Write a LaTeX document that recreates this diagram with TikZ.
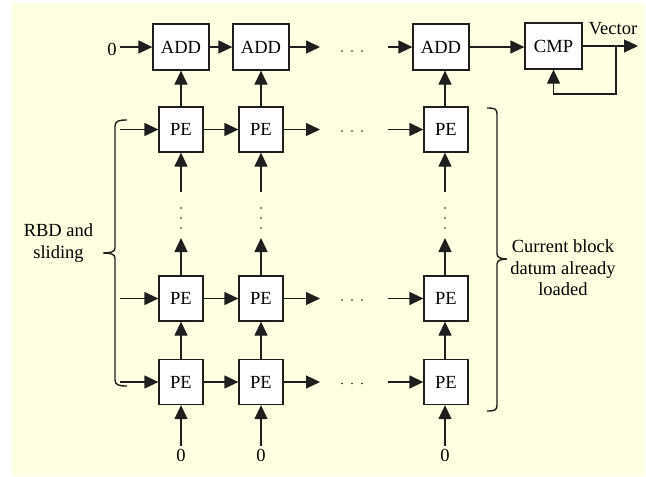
\documentclass[tikz,border=0pt]{standalone}
\usepackage{fontspec}
\setmainfont{Liberation Serif}
\usetikzlibrary{arrows.meta}
\definecolor{bgyellow}{RGB}{255,255,225}
\definecolor{lncol}{RGB}{30,30,30}
\begin{document}
\begin{tikzpicture}[x=1pt,y=-1pt,
  font=\fontsize{18.5}{21.5}\selectfont,
  box/.style={draw=lncol, fill=white, line width=1.3pt, inner sep=0pt, minimum height=46pt},
  addbox/.style={box, minimum width=56pt},
  pebox/.style={box, minimum width=44pt, minimum height=45pt},
  arr/.style={draw=lncol, line width=1.3pt, -{Triangle[length=14pt,width=13pt]}},
  ln/.style={draw=lncol, line width=1.4pt},
  zero/.style={inner sep=3pt},
]
\useasboundingbox (0,0) rectangle (646,477);
\fill[bgyellow] (12,3) rectangle (645,476);

% ADD row
\node[addbox] (add1) at (181,47) {ADD};
\node[addbox] (add2) at (261,47) {ADD};
\node[addbox] (add3) at (441,47) {ADD};
\node[addbox, minimum width=57pt] (cmp) at (553.5,46) {CMP};
\node[zero] (z0) at (112,49) {0};
\node[inner sep=0pt] (vec) at (613,29) {Vector};

% PE rows
\foreach \r/\y in {1/129.5,2/298.5,3/382}{
  \node[pebox] (pe\r1) at (181,\y) {PE};
  \node[pebox] (pe\r2) at (261,\y) {PE};
  \node[pebox] (pe\r3) at (446,\y) {PE};
  \coordinate (la\r) at (120,\y);
  \coordinate (ra\r) at (320,\y);
  \coordinate (rb\r) at (388,\y);
  \draw[arr] (la\r) -- (pe\r1.west);
  \draw[arr] (pe\r1.east) -- (pe\r2.west);
  \draw[arr] (pe\r2.east) -- (ra\r);
  \draw[arr] (rb\r) -- (pe\r3.west);
  \foreach \dx in {342,352,362}{\fill[lncol] (\dx,\y+1.5) circle (0.9pt);}
}

% ADD row connectors
\draw[arr] (z0.east |- add1.west) -- (add1.west);
\draw[arr] (add1.east) -- (add2.west);
\coordinate (aa) at (320,47);
\coordinate (ab) at (388,47);
\draw[arr] (add2.east) -- (aa);
\draw[arr] (ab) -- (add3.west);
\foreach \dx in {342,352,362}{\fill[lncol] (\dx,51) circle (0.9pt);}
\draw[arr] (add3.east) -- (add3.east -| cmp.west);
\coordinate (vout) at (638,46);
\coordinate (fb) at (616,94);
\draw[arr] (cmp.east) -- (vout);
\draw[arr] (cmp.east -| fb) -- (fb) -| (cmp.south);

% PE -> ADD
\draw[arr] (pe11.north) -- (add1.south);
\draw[arr] (pe12.north) -- (add2.south);
\draw[arr] (pe13.north -| 445,0) -- (add3.south -| 445,0);

% vertical chains with dots
\foreach \c/\x in {1/181,2/261,3/445}{
  \coordinate (vt\c) at (\x,192);
  \coordinate (vb\c) at (\x,238);
  \draw[arr] (vt\c) -- (pe1\c.south -| vt\c);
  \draw[arr] (pe2\c.north -| vb\c) -- (vb\c);
  \draw[arr] (pe3\c.north -| vb\c) -- (pe2\c.south -| vb\c);
  \foreach \dy in {208,218,228}{\fill[lncol] (\x,\dy) circle (0.9pt);}
  \node[zero] (zb\c) at (\x,455) {0};
  \draw[arr] (zb\c.north) -- (pe3\c.south -| zb\c);
}

% braces
\draw[ln] (127,120) .. controls (119,120) and (115,121) .. (115,126) -- (115,248)
  .. controls (115,252) and (110,253) .. (103,253)
  .. controls (110,253) and (115,254) .. (115,258) -- (115,380)
  .. controls (115,385) and (119,386) .. (127,386);
\draw[ln] (487,108) .. controls (495,108) and (497,109) .. (497,114) -- (497,254)
  .. controls (497,258) and (502,259) .. (507,259)
  .. controls (502,259) and (497,260) .. (497,264) -- (497,405)
  .. controls (497,410) and (495,411) .. (487,411);

\node[align=center, inner sep=0pt] (lt) at (58.5,243) {RBD and\\sliding};
\node[align=center, inner sep=0pt] (rt) at (563,268) {Current block\\datum already\\loaded};
\end{tikzpicture}
\end{document}
